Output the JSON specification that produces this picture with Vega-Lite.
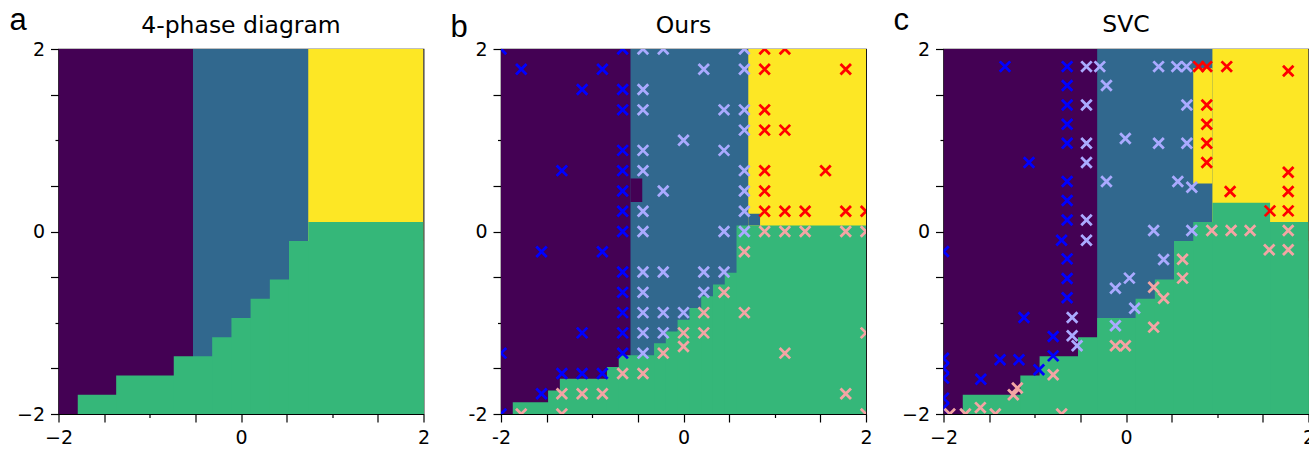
{
  "$schema": "https://vega.github.io/schema/vega-lite/v6.json",
  "background": "white",
  "padding": {"left": 7.5, "top": 3, "right": 0, "bottom": 0},
  "spacing": 77.5,
  "bounds": "flush",
  "config": {
    "view": {"stroke": "black", "strokeWidth": 1.2},
    "axis": {
      "grid": false, "domain": false,
      "labelFont": "DejaVu Sans", "labelFontSize": 19, "labelColor": "black",
      "labelPadding": 6, "labelFlush": false, "labelOverlap": false,
      "tickColor": "black", "tickWidth": 1.2,
      "values": [-2, -1, 0, 1, 2],
      "tickSize": {"condition": {"test": "abs(datum.value) == 1", "value": 3.5}, "value": 8}
    },
    "title": {"font": "DejaVu Sans", "fontSize": 23.5, "fontWeight": "normal", "color": "black", "anchor": "middle", "frame": "group", "baseline": "alphabetic", "offset": 14}
  },
  "datasets": {
    "regions": [
      {"p": "a", "x": -2, "x2": 2, "y": -2, "y2": 2, "c": 0},
      {"p": "a", "x": -0.526, "x2": 2, "y": -2, "y2": 2, "c": 1},
      {"p": "a", "x": 0.737, "x2": 2, "y": -2, "y2": 2, "c": 3},
      {"p": "a", "x": -1.789, "x2": 2, "y": -2, "y2": -1.789, "c": 2},
      {"p": "a", "x": -1.368, "x2": 2, "y": -2, "y2": -1.579, "c": 2},
      {"p": "a", "x": -0.737, "x2": 2, "y": -2, "y2": -1.368, "c": 2},
      {"p": "a", "x": -0.316, "x2": 2, "y": -2, "y2": -1.158, "c": 2},
      {"p": "a", "x": -0.105, "x2": 2, "y": -2, "y2": -0.947, "c": 2},
      {"p": "a", "x": 0.105, "x2": 2, "y": -2, "y2": -0.737, "c": 2},
      {"p": "a", "x": 0.316, "x2": 2, "y": -2, "y2": -0.526, "c": 2},
      {"p": "a", "x": 0.526, "x2": 2, "y": -2, "y2": -0.105, "c": 2},
      {"p": "a", "x": 0.737, "x2": 2, "y": -2, "y2": 0.105, "c": 2},

      {"p": "b", "x": -2, "x2": 2, "y": -2, "y2": 2, "c": 0},
      {"p": "b", "x": -0.581, "x2": 2, "y": -2, "y2": 2, "c": 1},
      {"p": "b", "x": 0.71, "x2": 2, "y": -2, "y2": 2, "c": 3},
      {"p": "b", "x": -0.581, "x2": -0.452, "y": 0.323, "y2": 0.581, "c": 0},
      {"p": "b", "x": 0.71, "x2": 0.839, "y": 0.065, "y2": 0.194, "c": 1},
      {"p": "b", "x": -1.871, "x2": 2, "y": -2, "y2": -1.871, "c": 2},
      {"p": "b", "x": -1.484, "x2": 2, "y": -2, "y2": -1.742, "c": 2},
      {"p": "b", "x": -1.355, "x2": 2, "y": -2, "y2": -1.613, "c": 2},
      {"p": "b", "x": -0.839, "x2": 2, "y": -2, "y2": -1.484, "c": 2},
      {"p": "b", "x": -0.71, "x2": 2, "y": -2, "y2": -1.355, "c": 2},
      {"p": "b", "x": -0.323, "x2": 2, "y": -2, "y2": -1.226, "c": 2},
      {"p": "b", "x": -0.194, "x2": 2, "y": -2, "y2": -1.097, "c": 2},
      {"p": "b", "x": -0.065, "x2": 2, "y": -2, "y2": -0.968, "c": 2},
      {"p": "b", "x": 0.065, "x2": 2, "y": -2, "y2": -0.839, "c": 2},
      {"p": "b", "x": 0.194, "x2": 2, "y": -2, "y2": -0.71, "c": 2},
      {"p": "b", "x": 0.323, "x2": 2, "y": -2, "y2": -0.581, "c": 2},
      {"p": "b", "x": 0.452, "x2": 2, "y": -2, "y2": -0.452, "c": 2},
      {"p": "b", "x": 0.581, "x2": 2, "y": -2, "y2": 0.065, "c": 2},

      {"p": "c", "x": -2, "x2": 2, "y": -2, "y2": 2, "c": 0},
      {"p": "c", "x": -0.316, "x2": 2, "y": -2, "y2": 2, "c": 1},
      {"p": "c", "x": 0.947, "x2": 2, "y": -2, "y2": 2, "c": 3},
      {"p": "c", "x": 0.737, "x2": 0.947, "y": 0.526, "y2": 1.789, "c": 3},
      {"p": "c", "x": -1.789, "x2": 2, "y": -2, "y2": -1.789, "c": 2},
      {"p": "c", "x": -1.158, "x2": 2, "y": -2, "y2": -1.579, "c": 2},
      {"p": "c", "x": -0.947, "x2": 2, "y": -2, "y2": -1.368, "c": 2},
      {"p": "c", "x": -0.526, "x2": 2, "y": -2, "y2": -1.158, "c": 2},
      {"p": "c", "x": -0.316, "x2": 2, "y": -2, "y2": -0.947, "c": 2},
      {"p": "c", "x": 0.105, "x2": 2, "y": -2, "y2": -0.737, "c": 2},
      {"p": "c", "x": 0.316, "x2": 2, "y": -2, "y2": -0.526, "c": 2},
      {"p": "c", "x": 0.526, "x2": 2, "y": -2, "y2": -0.105, "c": 2},
      {"p": "c", "x": 0.737, "x2": 2, "y": -2, "y2": 0.105, "c": 2},
      {"p": "c", "x": 0.947, "x2": 1.579, "y": -2, "y2": 0.316, "c": 2}
    ],
    "points": [
      {"p": "b", "x": -2, "y": 2, "t": 0},
      {"p": "b", "x": -0.667, "y": 2, "t": 0},
      {"p": "b", "x": -1.778, "y": 1.778, "t": 0},
      {"p": "b", "x": -0.889, "y": 1.778, "t": 0},
      {"p": "b", "x": -1.111, "y": 1.556, "t": 0},
      {"p": "b", "x": -0.667, "y": 1.556, "t": 0},
      {"p": "b", "x": -0.667, "y": 1.333, "t": 0},
      {"p": "b", "x": -0.667, "y": 0.889, "t": 0},
      {"p": "b", "x": -1.333, "y": 0.667, "t": 0},
      {"p": "b", "x": -0.667, "y": 0.667, "t": 0},
      {"p": "b", "x": -0.667, "y": 0.444, "t": 0},
      {"p": "b", "x": -0.667, "y": 0.222, "t": 0},
      {"p": "b", "x": -0.667, "y": 0, "t": 0},
      {"p": "b", "x": -1.556, "y": -0.222, "t": 0},
      {"p": "b", "x": -0.889, "y": -0.222, "t": 0},
      {"p": "b", "x": -0.667, "y": -0.444, "t": 0},
      {"p": "b", "x": -0.667, "y": -0.667, "t": 0},
      {"p": "b", "x": -0.667, "y": -0.889, "t": 0},
      {"p": "b", "x": -1.111, "y": -1.111, "t": 0},
      {"p": "b", "x": -0.667, "y": -1.111, "t": 0},
      {"p": "b", "x": -2, "y": -1.333, "t": 0},
      {"p": "b", "x": -0.667, "y": -1.333, "t": 0},
      {"p": "b", "x": -1.333, "y": -1.556, "t": 0},
      {"p": "b", "x": -1.111, "y": -1.556, "t": 0},
      {"p": "b", "x": -0.889, "y": -1.556, "t": 0},
      {"p": "b", "x": -1.556, "y": -1.778, "t": 0},
      {"p": "b", "x": -2, "y": -2, "t": 0},

      {"p": "b", "x": -0.444, "y": 2, "t": 1},
      {"p": "b", "x": -0.222, "y": 2, "t": 1},
      {"p": "b", "x": 0.667, "y": 2, "t": 1},
      {"p": "b", "x": 0.222, "y": 1.778, "t": 1},
      {"p": "b", "x": 0.667, "y": 1.778, "t": 1},
      {"p": "b", "x": -0.444, "y": 1.556, "t": 1},
      {"p": "b", "x": -0.444, "y": 1.333, "t": 1},
      {"p": "b", "x": 0.444, "y": 1.333, "t": 1},
      {"p": "b", "x": 0.667, "y": 1.333, "t": 1},
      {"p": "b", "x": 0.667, "y": 1.111, "t": 1},
      {"p": "b", "x": 0, "y": 1.0, "t": 1},
      {"p": "b", "x": -0.444, "y": 0.889, "t": 1},
      {"p": "b", "x": 0.444, "y": 0.889, "t": 1},
      {"p": "b", "x": -0.444, "y": 0.667, "t": 1},
      {"p": "b", "x": 0.667, "y": 0.667, "t": 1},
      {"p": "b", "x": -0.222, "y": 0.444, "t": 1},
      {"p": "b", "x": 0.667, "y": 0.444, "t": 1},
      {"p": "b", "x": -0.444, "y": 0.222, "t": 1},
      {"p": "b", "x": 0.667, "y": 0.222, "t": 1},
      {"p": "b", "x": -0.444, "y": 0, "t": 1},
      {"p": "b", "x": 0.444, "y": 0, "t": 1},
      {"p": "b", "x": 0.667, "y": 0, "t": 1},
      {"p": "b", "x": -0.444, "y": -0.444, "t": 1},
      {"p": "b", "x": -0.222, "y": -0.444, "t": 1},
      {"p": "b", "x": 0.222, "y": -0.444, "t": 1},
      {"p": "b", "x": 0.444, "y": -0.444, "t": 1},
      {"p": "b", "x": -0.444, "y": -0.667, "t": 1},
      {"p": "b", "x": 0.222, "y": -0.667, "t": 1},
      {"p": "b", "x": -0.444, "y": -0.889, "t": 1},
      {"p": "b", "x": -0.222, "y": -0.889, "t": 1},
      {"p": "b", "x": 0, "y": -0.889, "t": 1},
      {"p": "b", "x": -0.444, "y": -1.111, "t": 1},
      {"p": "b", "x": -0.222, "y": -1.111, "t": 1},
      {"p": "b", "x": -0.444, "y": -1.333, "t": 1},

      {"p": "b", "x": 0.889, "y": 2, "t": 3},
      {"p": "b", "x": 1.111, "y": 2, "t": 3},
      {"p": "b", "x": 0.889, "y": 1.778, "t": 3},
      {"p": "b", "x": 1.778, "y": 1.778, "t": 3},
      {"p": "b", "x": 0.889, "y": 1.333, "t": 3},
      {"p": "b", "x": 0.889, "y": 1.111, "t": 3},
      {"p": "b", "x": 1.111, "y": 1.111, "t": 3},
      {"p": "b", "x": 0.889, "y": 0.667, "t": 3},
      {"p": "b", "x": 1.556, "y": 0.667, "t": 3},
      {"p": "b", "x": 0.889, "y": 0.444, "t": 3},
      {"p": "b", "x": 0.889, "y": 0.222, "t": 3},
      {"p": "b", "x": 1.111, "y": 0.222, "t": 3},
      {"p": "b", "x": 1.333, "y": 0.222, "t": 3},
      {"p": "b", "x": 1.778, "y": 0.222, "t": 3},
      {"p": "b", "x": 2, "y": 0.222, "t": 3},

      {"p": "b", "x": 0.889, "y": 0, "t": 2},
      {"p": "b", "x": 1.111, "y": 0, "t": 2},
      {"p": "b", "x": 1.333, "y": 0, "t": 2},
      {"p": "b", "x": 1.778, "y": 0, "t": 2},
      {"p": "b", "x": 2, "y": 0, "t": 2},
      {"p": "b", "x": 0.667, "y": -0.222, "t": 2},
      {"p": "b", "x": 0.444, "y": -0.667, "t": 2},
      {"p": "b", "x": 0.222, "y": -0.889, "t": 2},
      {"p": "b", "x": 0.667, "y": -0.889, "t": 2},
      {"p": "b", "x": 0, "y": -1.111, "t": 2},
      {"p": "b", "x": 0.222, "y": -1.111, "t": 2},
      {"p": "b", "x": 2, "y": -1.111, "t": 2},
      {"p": "b", "x": 0, "y": -1.26, "t": 2},
      {"p": "b", "x": -0.222, "y": -1.333, "t": 2},
      {"p": "b", "x": 1.111, "y": -1.333, "t": 2},
      {"p": "b", "x": -0.667, "y": -1.556, "t": 2},
      {"p": "b", "x": -0.444, "y": -1.556, "t": 2},
      {"p": "b", "x": -1.333, "y": -1.778, "t": 2},
      {"p": "b", "x": -1.111, "y": -1.778, "t": 2},
      {"p": "b", "x": -0.889, "y": -1.778, "t": 2},
      {"p": "b", "x": 1.778, "y": -1.778, "t": 2},
      {"p": "b", "x": -1.778, "y": -2, "t": 2},
      {"p": "b", "x": -1.333, "y": -2, "t": 2},
      {"p": "b", "x": 2, "y": -2, "t": 2},

      {"p": "c", "x": -1.326, "y": 1.807, "t": 0},
      {"p": "c", "x": -0.645, "y": 1.807, "t": 0},
      {"p": "c", "x": -0.645, "y": 1.599, "t": 0},
      {"p": "c", "x": -0.645, "y": 1.387, "t": 0},
      {"p": "c", "x": -0.645, "y": 1.175, "t": 0},
      {"p": "c", "x": -0.645, "y": 0.967, "t": 0},
      {"p": "c", "x": -1.063, "y": 0.756, "t": 0},
      {"p": "c", "x": -0.645, "y": 0.548, "t": 0},
      {"p": "c", "x": -0.645, "y": 0.34, "t": 0},
      {"p": "c", "x": -0.645, "y": 0.127, "t": 0},
      {"p": "c", "x": -0.706, "y": -0.095, "t": 0},
      {"p": "c", "x": -2, "y": -0.219, "t": 0},
      {"p": "c", "x": -0.645, "y": -0.3, "t": 0},
      {"p": "c", "x": -0.645, "y": -0.515, "t": 0},
      {"p": "c", "x": -0.645, "y": -0.725, "t": 0},
      {"p": "c", "x": -1.118, "y": -0.942, "t": 0},
      {"p": "c", "x": -0.798, "y": -1.15, "t": 0},
      {"p": "c", "x": -0.798, "y": -1.363, "t": 0},
      {"p": "c", "x": -1.38, "y": -1.406, "t": 0},
      {"p": "c", "x": -1.173, "y": -1.406, "t": 0},
      {"p": "c", "x": -0.954, "y": -1.516, "t": 0},
      {"p": "c", "x": -1.591, "y": -1.618, "t": 0},
      {"p": "c", "x": -2, "y": -1.388, "t": 0},
      {"p": "c", "x": -2, "y": -1.497, "t": 0},
      {"p": "c", "x": -2, "y": -1.607, "t": 0},
      {"p": "c", "x": -2, "y": -1.826, "t": 0},
      {"p": "c", "x": -2, "y": -1.935, "t": 0},

      {"p": "c", "x": -0.433, "y": 1.807, "t": 1},
      {"p": "c", "x": -0.287, "y": 1.807, "t": 1},
      {"p": "c", "x": 0.357, "y": 1.807, "t": 1},
      {"p": "c", "x": 0.557, "y": 1.807, "t": 1},
      {"p": "c", "x": 0.663, "y": 1.807, "t": 1},
      {"p": "c", "x": -0.214, "y": 1.599, "t": 1},
      {"p": "c", "x": -0.433, "y": 1.387, "t": 1},
      {"p": "c", "x": 0.667, "y": 1.387, "t": 1},
      {"p": "c", "x": -0.433, "y": 0.967, "t": 1},
      {"p": "c", "x": -0.007, "y": 1.019, "t": 1},
      {"p": "c", "x": 0.357, "y": 0.967, "t": 1},
      {"p": "c", "x": 0.667, "y": 0.967, "t": 1},
      {"p": "c", "x": -0.433, "y": 0.756, "t": 1},
      {"p": "c", "x": -0.214, "y": 0.548, "t": 1},
      {"p": "c", "x": 0.568, "y": 0.548, "t": 1},
      {"p": "c", "x": 0.721, "y": 0.485, "t": 1},
      {"p": "c", "x": -0.433, "y": 0.127, "t": 1},
      {"p": "c", "x": 0.303, "y": 0.011, "t": 1},
      {"p": "c", "x": 0.721, "y": 0.011, "t": 1},
      {"p": "c", "x": -0.433, "y": -0.095, "t": 1},
      {"p": "c", "x": 0.412, "y": -0.307, "t": 1},
      {"p": "c", "x": 0.037, "y": -0.511, "t": 1},
      {"p": "c", "x": -0.116, "y": -0.621, "t": 1},
      {"p": "c", "x": 0.095, "y": -0.84, "t": 1},
      {"p": "c", "x": -0.59, "y": -0.942, "t": 1},
      {"p": "c", "x": -0.116, "y": -1.034, "t": 1},
      {"p": "c", "x": -0.59, "y": -1.143, "t": 1},
      {"p": "c", "x": -0.536, "y": -1.253, "t": 1},

      {"p": "c", "x": 0.795, "y": 1.807, "t": 3},
      {"p": "c", "x": 0.885, "y": 1.807, "t": 3},
      {"p": "c", "x": 1.104, "y": 1.807, "t": 3},
      {"p": "c", "x": 1.778, "y": 1.759, "t": 3},
      {"p": "c", "x": 0.885, "y": 1.387, "t": 3},
      {"p": "c", "x": 0.885, "y": 1.175, "t": 3},
      {"p": "c", "x": 0.885, "y": 0.967, "t": 3},
      {"p": "c", "x": 0.885, "y": 0.756, "t": 3},
      {"p": "c", "x": 1.778, "y": 0.65, "t": 3},
      {"p": "c", "x": 1.141, "y": 0.438, "t": 3},
      {"p": "c", "x": 1.778, "y": 0.438, "t": 3},
      {"p": "c", "x": 1.578, "y": 0.226, "t": 3},
      {"p": "c", "x": 1.778, "y": 0.226, "t": 3},

      {"p": "c", "x": 0.94, "y": 0.011, "t": 2},
      {"p": "c", "x": 1.152, "y": 0.011, "t": 2},
      {"p": "c", "x": 1.36, "y": 0.011, "t": 2},
      {"p": "c", "x": 1.778, "y": 0.011, "t": 2},
      {"p": "c", "x": 1.57, "y": -0.201, "t": 2},
      {"p": "c", "x": 1.778, "y": -0.201, "t": 2},
      {"p": "c", "x": 0.62, "y": -0.303, "t": 2},
      {"p": "c", "x": 0.62, "y": -0.511, "t": 2},
      {"p": "c", "x": 0.303, "y": -0.61, "t": 2},
      {"p": "c", "x": 0.412, "y": -0.731, "t": 2},
      {"p": "c", "x": 0.303, "y": -1.048, "t": 2},
      {"p": "c", "x": -0.116, "y": -1.253, "t": 2},
      {"p": "c", "x": -0.007, "y": -1.253, "t": 2},
      {"p": "c", "x": -0.798, "y": -1.571, "t": 2},
      {"p": "c", "x": -1.191, "y": -1.716, "t": 2},
      {"p": "c", "x": -1.235, "y": -1.79, "t": 2},
      {"p": "c", "x": -1.931, "y": -2, "t": 2},
      {"p": "c", "x": -1.76, "y": -2, "t": 2},
      {"p": "c", "x": -1.596, "y": -1.93, "t": 2},
      {"p": "c", "x": -1.432, "y": -2, "t": 2},
      {"p": "c", "x": -0.705, "y": -2, "t": 2}
    ]
  },
  "hconcat": [
    {
      "width": 365, "height": 365,
      "title": {"text": "4-phase diagram", "dy": 46.7},
      "data": {"name": "regions"},
      "transform": [{"filter": "datum.p == 'a'"}],
      "mark": {"type": "rect", "clip": true},
      "encoding": {
        "x": {"field": "x", "type": "quantitative", "scale": {"domain": [-2, 2], "nice": false, "zero": false},
              "axis": {"title": null, "labelExpr": "datum.value == -2 ? '\u22122' : (datum.value == 0 ? '0' : (datum.value == 2 ? '2' : ''))"}},
        "x2": {"field": "x2"},
        "y": {"field": "y", "type": "quantitative", "scale": {"domain": [-2, 2], "nice": false, "zero": false},
              "axis": {"title": "a", "titleAngle": 0, "titleX": -49.5, "titleY": -19.3, "titleAlign": "left", "titleBaseline": "alphabetic",
                       "titleFont": "Liberation Sans", "titleFontSize": 31, "titleFontWeight": "normal", "titleColor": "black",
                       "labelExpr": "datum.value == -2 ? '\u22122' : (datum.value == 0 ? '0' : (datum.value == 2 ? '2' : ''))"}},
        "y2": {"field": "y2"},
        "fill": {"field": "c", "type": "nominal", "scale": {"domain": [0, 1, 2, 3], "range": ["#440154", "#31688e", "#35b779", "#fde725"]}, "legend": null}
      }
    },
    {
      "width": 365, "height": 365,
      "title": {"text": "Ours", "dy": 40},
      "encoding": {
        "x": {"field": "x", "type": "quantitative", "scale": {"domain": [-2, 2], "nice": false, "zero": false},
              "axis": {"title": null, "labelExpr": "datum.value == -2 ? '-2' : (datum.value == 0 ? '0' : (datum.value == 2 ? '2' : ''))"}},
        "y": {"field": "y", "type": "quantitative", "scale": {"domain": [-2, 2], "nice": false, "zero": false},
              "axis": {"title": "b", "titleAngle": 0, "titleX": -51, "titleY": -12.8, "titleAlign": "left", "titleBaseline": "alphabetic",
                       "titleFont": "Liberation Sans", "titleFontSize": 31, "titleFontWeight": "normal", "titleColor": "black",
                       "labelExpr": "datum.value == -2 ? '-2' : (datum.value == 0 ? '0' : (datum.value == 2 ? '2' : ''))"}}
      },
      "layer": [
        {
          "data": {"name": "regions"},
          "transform": [{"filter": "datum.p == 'b'"}],
          "mark": {"type": "rect", "clip": true},
          "encoding": {
            "x2": {"field": "x2"}, "y2": {"field": "y2"},
            "fill": {"field": "c", "type": "nominal", "scale": {"domain": [0, 1, 2, 3], "range": ["#440154", "#31688e", "#35b779", "#fde725"]}, "legend": null}
          }
        },
        {
          "data": {"name": "points"},
          "transform": [{"filter": "datum.p == 'b'"}],
          "mark": {"type": "point", "shape": "M-1,-1L1,1M-1,1L1,-1", "filled": false, "strokeWidth": 2.8, "size": 110, "opacity": 1, "clip": true},
          "encoding": {
            "stroke": {"field": "t", "type": "nominal", "scale": {"domain": [0, 1, 2, 3], "range": ["#0000ff", "#aaaaff", "#f4a4a4", "#ff0000"]}, "legend": null}
          }
        }
      ]
    },
    {
      "width": 365, "height": 365,
      "title": {"text": "SVC", "dy": 46.3},
      "encoding": {
        "x": {"field": "x", "type": "quantitative", "scale": {"domain": [-2, 2], "nice": false, "zero": false},
              "axis": {"title": null, "labelExpr": "datum.value == -2 ? '\u22122' : (datum.value == 0 ? '0' : (datum.value == 2 ? '2' : ''))"}},
        "y": {"field": "y", "type": "quantitative", "scale": {"domain": [-2, 2], "nice": false, "zero": false},
              "axis": {"title": "c", "titleAngle": 0, "titleX": -50.5, "titleY": -20, "titleAlign": "left", "titleBaseline": "alphabetic",
                       "titleFont": "Liberation Sans", "titleFontSize": 31, "titleFontWeight": "normal", "titleColor": "black",
                       "labelExpr": "datum.value == -2 ? '\u22122' : (datum.value == 0 ? '0' : (datum.value == 2 ? '2' : ''))"}}
      },
      "layer": [
        {
          "data": {"name": "regions"},
          "transform": [{"filter": "datum.p == 'c'"}],
          "mark": {"type": "rect", "clip": true},
          "encoding": {
            "x2": {"field": "x2"}, "y2": {"field": "y2"},
            "fill": {"field": "c", "type": "nominal", "scale": {"domain": [0, 1, 2, 3], "range": ["#440154", "#31688e", "#35b779", "#fde725"]}, "legend": null}
          }
        },
        {
          "data": {"name": "points"},
          "transform": [{"filter": "datum.p == 'c'"}],
          "mark": {"type": "point", "shape": "M-1,-1L1,1M-1,1L1,-1", "filled": false, "strokeWidth": 2.8, "size": 110, "opacity": 1, "clip": true},
          "encoding": {
            "stroke": {"field": "t", "type": "nominal", "scale": {"domain": [0, 1, 2, 3], "range": ["#0000ff", "#aaaaff", "#f4a4a4", "#ff0000"]}, "legend": null}
          }
        }
      ]
    }
  ]
}
